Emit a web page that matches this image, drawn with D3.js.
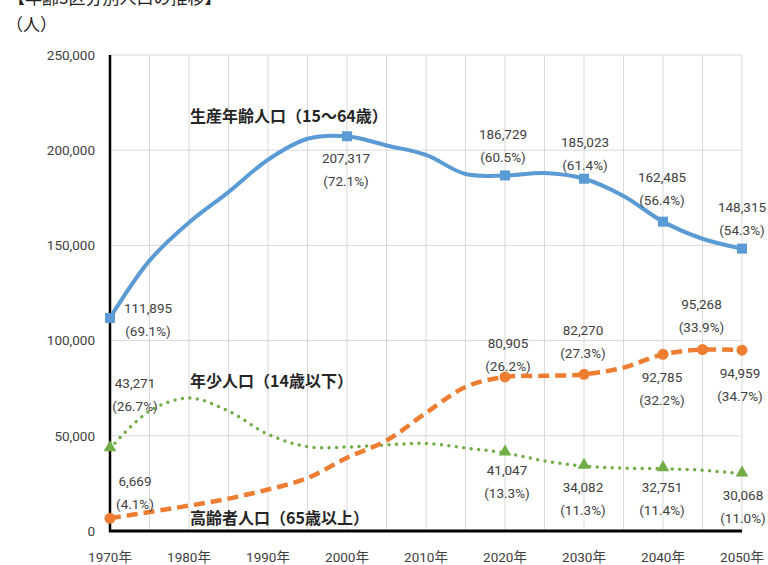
<!DOCTYPE html>
<html>
<head>
<meta charset="utf-8">
<title>年齢3区分別人口の推移</title>
<script src="https://d3js.org/d3.v7.min.js"></script>
<style>
    body { margin: 0; background: #fff; }
    svg { display: block; }
    .num { font-family: "Liberation Sans Narrow", "Roboto", "Noto Sans CJK JP", sans-serif; font-size: 13.5px; fill: #404040; }
    .jp { font-family: "Noto Sans CJK JP", sans-serif; }
</style>
</head>
<body>
<script>
// ---- data (5-year steps, 1970-2050) ----
const years = [1970, 1975, 1980, 1985, 1990, 1995, 2000, 2005, 2010, 2015, 2020, 2025, 2030, 2035, 2040, 2045, 2050];
const working = [111895, 142000, 162000, 178000, 195000, 206000, 207317, 202500, 197500, 187500, 186729, 188000, 185023, 176000, 162485, 153500, 148315];
const elderly = [6669, 10000, 13300, 17000, 21800, 27800, 38500, 47500, 62000, 75600, 80905, 81500, 82270, 85800, 92785, 95268, 94959];
const youth = [43271, 63000, 69800, 63000, 50800, 44300, 44100, 45200, 46000, 43600, 41047, 36800, 34082, 33000, 32751, 31900, 30068];

const yTicks = [0, 50000, 100000, 150000, 200000, 250000];
const xTickYears = [1970, 1980, 1990, 2000, 2010, 2020, 2030, 2040, 2050];

// years that carry a marker, per series
const workingMarks = [1970, 2000, 2020, 2030, 2040, 2050];
const elderlyMarks = [1970, 2020, 2030, 2040, 2045, 2050];
const youthMarks = [1970, 2020, 2030, 2040, 2050];

// value labels: series, year, share (%)
const labelSeries = ["w", "w", "w", "w", "w", "w", "y", "y", "y", "y", "y", "e", "e", "e", "e", "e", "e"];
const labelYears = [1970, 2000, 2020, 2030, 2040, 2050, 1970, 2020, 2030, 2040, 2050, 1970, 2020, 2030, 2040, 2045, 2050];
const labelShares = ["69.1", "72.1", "60.5", "61.4", "56.4", "54.3", "26.7", "13.3", "11.3", "11.4", "11.0", "4.1", "26.2", "27.3", "32.2", "33.9", "34.7"];

// ---- layout ----
const width = 768, height = 565;
const margin = { top: 55, right: 26, bottom: 34, left: 110 };

// label placement relative to its point (first line centre / baseline)
const labelOffsets = [
    [38, -5], [-1, 27], [-2, -36], [1, -32], [-1, -40], [0, -37],
    [25, -61], [2, 22], [-1, 26], [-1, 23], [1, 26],
    [25, -32], [3, -29], [-1, -39], [-1, 28], [-1, -41], [-2, 28]
];

const svg = d3.select("body").append("svg")
    .attr("width", width)
    .attr("height", height);

const x = d3.scaleLinear()
    .domain([1970, 2050])
    .range([margin.left, width - margin.right]);

const y = d3.scaleLinear()
    .domain([0, 250000])
    .range([height - margin.bottom, margin.top]);

const fmt = d3.format(",d");

// clipped heading at very top + unit
svg.append("text")
    .attr("class", "jp")
    .attr("x", 8).attr("y", 4)
    .style("font-size", "17px").style("fill", "#222")
    .text("【年齢3区分別人口の推移】");

svg.append("text")
    .attr("class", "jp")
    .attr("x", 6).attr("y", 31)
    .style("font-size", "17px").style("fill", "#222")
    .text("（人）");

// grid
const grid = svg.append("g").attr("stroke", "#d9d9d9").attr("stroke-width", 1);
grid.selectAll("line.h")
    .data(yTicks.slice(1))
    .join("line")
    .attr("x1", x(1970)).attr("x2", x(2050))
    .attr("y1", d => y(d)).attr("y2", d => y(d));
grid.selectAll("line.v")
    .data(years.slice(1))
    .join("line")
    .attr("x1", d => x(d)).attr("x2", d => x(d))
    .attr("y1", y(250000)).attr("y2", y(0));

// axes
svg.append("line")
    .attr("x1", x(1970)).attr("x2", x(1970))
    .attr("y1", y(250000)).attr("y2", y(0) + 1)
    .attr("stroke", "#000").attr("stroke-width", 2.5);
svg.append("line")
    .attr("x1", x(1970) - 1).attr("x2", x(2050))
    .attr("y1", y(0)).attr("y2", y(0))
    .attr("stroke", "#000").attr("stroke-width", 3);

svg.selectAll("text.ytick")
    .data(yTicks)
    .join("text")
    .attr("class", "num ytick")
    .attr("x", x(1970) - 15)
    .attr("y", d => y(d))
    .attr("dy", "0.35em")
    .attr("text-anchor", "end")
    .text(d => fmt(d));

svg.selectAll("text.xtick")
    .data(xTickYears)
    .join("text")
    .attr("class", "num xtick")
    .attr("x", d => x(d))
    .attr("y", y(0) + 31)
    .attr("text-anchor", "middle")
    .text(d => d + "年");

// lines
const line = d3.line()
    .x(d => x(d[0]))
    .y(d => y(d[1]))
    .curve(d3.curveCatmullRom.alpha(0.5));

const zip = vals => years.map((yr, i) => [yr, vals[i]]);

svg.append("path")
    .attr("d", line(zip(youth)))
    .attr("fill", "none").attr("stroke", "#70ad47")
    .attr("stroke-width", 3.5)
    .attr("stroke-linecap", "round")
    .attr("stroke-dasharray", "0 7.5");

svg.append("path")
    .attr("d", line(zip(elderly)))
    .attr("fill", "none").attr("stroke", "#ed7d31")
    .attr("stroke-width", 4.5)
    .attr("stroke-dasharray", "11 6");

svg.append("path")
    .attr("d", line(zip(working)))
    .attr("fill", "none").attr("stroke", "#5b9bd5")
    .attr("stroke-width", 4);

// markers
const valAt = (vals, yr) => vals[years.indexOf(yr)];

svg.selectAll("rect.wm")
    .data(workingMarks)
    .join("rect")
    .attr("x", d => x(d) - 5).attr("y", d => y(valAt(working, d)) - 5)
    .attr("width", 10).attr("height", 10)
    .attr("fill", "#5b9bd5");

svg.selectAll("circle.em")
    .data(elderlyMarks)
    .join("circle")
    .attr("cx", d => x(d)).attr("cy", d => y(valAt(elderly, d)))
    .attr("r", 5.5)
    .attr("fill", "#ed7d31");

const tri = d3.symbol().type(d3.symbolTriangle).size(70);
svg.selectAll("path.ym")
    .data(youthMarks)
    .join("path")
    .attr("d", tri)
    .attr("transform", d => `translate(${x(d)},${y(valAt(youth, d)) - 1})`)
    .attr("fill", "#70ad47");

// value labels
const seriesVals = { w: working, y: youth, e: elderly };
labelYears.forEach((yr, i) => {
    const v = valAt(seriesVals[labelSeries[i]], yr);
    const [dx, dy] = labelOffsets[i];
    const t = svg.append("text")
        .attr("class", "num")
        .attr("text-anchor", "middle")
        .attr("x", x(yr) + dx)
        .attr("y", y(v) + dy);
    t.append("tspan").attr("x", x(yr) + dx).text(fmt(v));
    t.append("tspan").attr("x", x(yr) + dx).attr("dy", 23).text("(" + labelShares[i] + "%)");
});

// series names
const names = [
    ["生産年齢人口（15～64歳）", 215000],
    ["年少人口（14歳以下）", 75500],
    ["高齢者人口（65歳以上）", 3800]
];
svg.selectAll("text.sname")
    .data(names)
    .join("text")
    .attr("class", "jp sname")
    .attr("x", x(1980) + 1)
    .attr("y", d => y(d[1]))
    .style("font-size", "16px")
    .style("font-weight", "bold")
    .style("fill", "#262626")
    .text(d => d[0]);
</script>
</body>
</html>
